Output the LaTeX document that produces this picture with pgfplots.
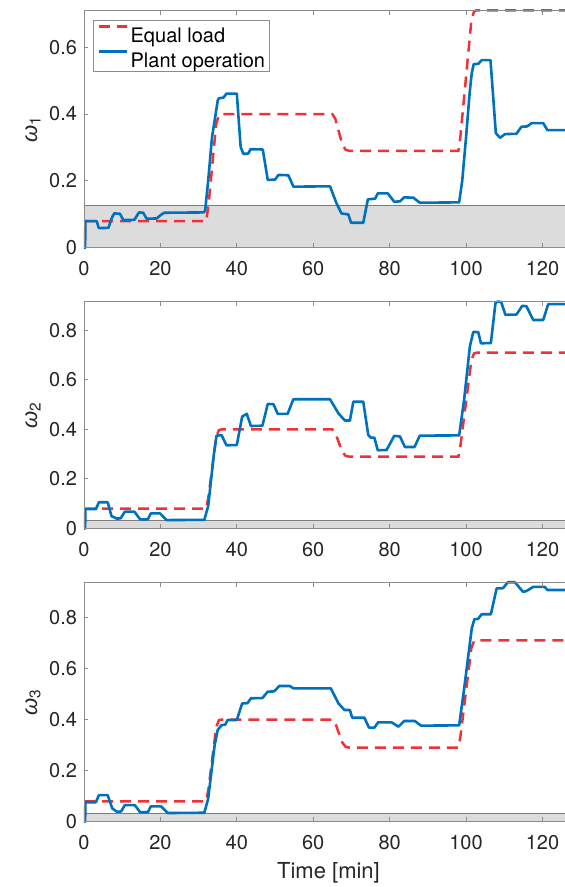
\documentclass[border=0pt]{standalone}
\usepackage{fontspec}
\setmainfont{TeX Gyre Heros}
\newfontfamily\greekfont{Liberation Sans}
\usepackage{pgfplots}
\pgfplotsset{compat=1.18}

\definecolor{planblue}{RGB}{0,114,189}
\definecolor{eqred}{RGB}{238,50,56}
\definecolor{bandfill}{RGB}{220,220,220}
\definecolor{bandedge}{RGB}{125,125,125}
\definecolor{framegray}{RGB}{140,140,140}
\definecolor{labelgray}{RGB}{38,38,38}

% Equal-load reference split (same for every unit)
\pgfplotstableread{
t w
0 0.08
32 0.08
32.6 0.13
34.6 0.37
35.3 0.397
36 0.40
65 0.40
65.8 0.385
67.6 0.31
68.5 0.293
69.5 0.29
98 0.29
98.5 0.33
101.4 0.68
102.1 0.707
102.8 0.71
128 0.71
}\equalload

\pgfplotsset{
  omegapanel/.style={
    scale only axis, width=244.5pt,
    xmin=0, xmax=128, ymin=0,
    clip=false, axis on top,
    axis line style={framegray, line width=0.5pt},
    every tick/.style={framegray, line width=0.5pt},
    major tick length=2.2pt, tick align=inside,
    xtick pos=both, ytick pos=left,
    xtick={0,20,40,60,80,100,120},
    /pgf/number format/assume math mode=true,
    ticklabel style={font=\fontsize{10}{12}\selectfont, text=labelgray},
    xticklabel style={anchor=north, inner sep=0pt, yshift=-6.5pt},
    yticklabel style={anchor=east, inner sep=0pt, xshift=-3.3pt},
    ylabel style={at={(axis description cs:-0.0879,0.5)}, anchor=south, inner sep=0pt,
                  font=\fontsize{11}{13}\selectfont, text=labelgray},
  },
  eqline/.style={eqred, line width=1.25pt, dash pattern=on 5.5pt off 3.5pt},
  plantline/.style={planblue, line width=1.3pt, line join=round},
}

\newcommand{\band}[1]{%
  \addplot[fill=bandfill, draw=none, forget plot] coordinates {(0,#1) (128,#1)} \closedcycle;
  \addplot[bandedge, line width=0.5pt, forget plot] coordinates {(0,#1) (128,#1)};
}

\begin{document}
\begin{tikzpicture}
\useasboundingbox (0,0) rectangle (282.5pt,443.5pt);

% unit 1
\begin{axis}[omegapanel, at={(42pt,319.55pt)}, anchor=south west, height=118.8pt,
  ymax=0.71, ytick={0,0.2,0.4,0.6}, yticklabels={0,0.2,0.4,0.6},
  ylabel={{\greekfont\itshape ω}\textsubscript{1}},
  legend cell align=left,
  legend image code/.code={\draw[#1] (0pt,3.6pt) -- (14pt,3.6pt);},
  legend style={at={(axis description cs:0,1)}, anchor=north west,
    xshift=4.35pt, yshift=-4.85pt, draw=framegray, line width=0.5pt, fill=white,
    inner xsep=2.2pt, inner ysep=1.8pt, row sep=3.1pt, column sep=1.2pt,
    font=\fontsize{10}{12}\selectfont, text=black,
    nodes={inner sep=0pt, text height=9.05pt, text depth=0.35pt}},
]
\band{0.127}
\addplot[eqline] table[x=t, y=w] {\equalload};
\addlegendentry{Equal load}
\addplot[plantline] coordinates {
(0,0) (0.3,0) (0.35,0.08) (3.3,0.08) (3.9,0.059) (6.4,0.06) (7.3,0.09) (7.9,0.103)
(9.4,0.102) (10.3,0.083) (13.2,0.084) (14.4,0.106) (15.5,0.105) (16.4,0.087) (19.0,0.088)
(20.3,0.1) (21.0,0.105) (31.2,0.106) (31.7,0.11) (32.5,0.2) (33.5,0.33) (35.0,0.44)
(35.3,0.447) (36.5,0.449) (37.3,0.461) (40.0,0.461) (41.0,0.302) (41.7,0.281) (43.0,0.282)
(43.6,0.295) (46.8,0.294) (48.1,0.203) (50.0,0.204) (50.9,0.218) (53.5,0.217) (54.8,0.183)
(64.4,0.184) (65.2,0.16) (66.1,0.133) (67.4,0.103) (69.2,0.10) (69.9,0.075) (73.1,0.075)
(74.3,0.145) (76.2,0.147) (76.9,0.163) (79.5,0.163) (81.2,0.138) (82.7,0.139) (83.8,0.151)
(86.2,0.15) (87.9,0.135) (98.2,0.136) (99.0,0.2) (100,0.33) (101.0,0.47) (101.5,0.522)
(102.0,0.549) (103.2,0.55) (104.1,0.561) (106.4,0.561) (107.8,0.343) (108.9,0.329)
(110.2,0.34) (113.2,0.341) (114.5,0.362) (116.0,0.363) (117.2,0.373) (120.2,0.373)
(121.3,0.352) (128,0.352)
};
\addlegendentry{Plant operation}
\end{axis}

% unit 2
\begin{axis}[omegapanel, at={(42pt,179.25pt)}, anchor=south west, height=113.4pt,
  ymax=0.916, ytick={0,0.2,0.4,0.6,0.8}, yticklabels={0,0.2,0.4,0.6,0.8},
  ylabel={{\greekfont\itshape ω}\textsubscript{2}},
]
\band{0.034}
\addplot[eqline] table[x=t, y=w] {\equalload};
\addplot[plantline] coordinates {
(0,0) (0.3,0) (0.35,0.078) (3.1,0.078) (3.9,0.106) (6.2,0.106) (7.2,0.05) (8.6,0.040)
(9.6,0.041) (10.7,0.068) (13.2,0.068) (14.7,0.037) (16.7,0.037) (17.5,0.061) (19.9,0.061)
(21.6,0.034) (31.5,0.035) (32.5,0.09) (34.0,0.30) (34.7,0.375) (36.0,0.377) (37.3,0.336)
(40.0,0.337) (41.4,0.452) (42.6,0.463) (43.7,0.414) (46.7,0.415) (48.1,0.503) (49.6,0.502)
(50.7,0.463) (53.3,0.463) (54.8,0.522) (64.4,0.522) (66.6,0.465) (68.3,0.436) (69.6,0.436)
(70.5,0.512) (73.1,0.512) (74.4,0.378) (75.1,0.367) (76.0,0.367) (76.9,0.316) (79.2,0.317)
(81.2,0.374) (82.7,0.372) (84.0,0.329) (86.5,0.329) (87.9,0.375) (98.2,0.376) (99.5,0.52)
(101.0,0.735) (101.9,0.794) (103.2,0.793) (103.9,0.748) (106.5,0.749) (107.7,0.910)
(108.2,0.916) (109.2,0.915) (110.3,0.863) (113.2,0.864) (114.7,0.899) (115.8,0.898)
(117.6,0.842) (120.2,0.842) (121.5,0.906) (128,0.906)
};
\end{axis}

% unit 3
\begin{axis}[omegapanel, at={(42pt,32.65pt)}, anchor=south west, height=119.7pt,
  ymax=0.937, ytick={0,0.2,0.4,0.6,0.8}, yticklabels={0,0.2,0.4,0.6,0.8},
  ylabel={{\greekfont\itshape ω}\textsubscript{3}},
  xlabel={Time [min]},
  xlabel style={at={(axis description cs:0.5,0)}, anchor=base, inner sep=0pt,
                yshift=-28.15pt, font=\fontsize{11}{13}\selectfont, text=labelgray},
]
\band{0.031}
\addplot[eqline] table[x=t, y=w] {\equalload};
\addplot[plantline] coordinates {
(0,0) (0.3,0) (0.35,0.076) (3.1,0.076) (3.9,0.104) (6.2,0.104) (7.4,0.052) (8.6,0.039)
(9.7,0.040) (10.7,0.065) (13.3,0.065) (14.7,0.037) (16.7,0.037) (17.5,0.060) (20.2,0.060)
(21.9,0.034) (31.5,0.035) (32.5,0.09) (34.2,0.30) (35.0,0.359) (36.0,0.378) (37.0,0.38)
(37.6,0.398) (40.0,0.398) (41.4,0.463) (42.8,0.464) (43.7,0.483) (46.7,0.484) (48.1,0.509)
(49.8,0.51) (51.1,0.531) (53.9,0.531) (54.8,0.522) (64.6,0.522) (66.6,0.463) (68.2,0.437)
(69.6,0.437) (70.2,0.407) (73.4,0.407) (74.6,0.368) (76.0,0.368) (77.0,0.389) (80.5,0.389)
(82.3,0.372) (83.8,0.394) (86.6,0.394) (88.2,0.376) (98.2,0.377) (99.5,0.52) (101.5,0.757)
(102.2,0.793) (103.1,0.793) (104.1,0.812) (106.5,0.812) (108.0,0.913) (109.7,0.914)
(110.9,0.937) (112.8,0.937) (114.9,0.900) (115.7,0.902) (117.6,0.919) (120.6,0.919)
(121.3,0.907) (128,0.907)
};
\end{axis}
\end{tikzpicture}
\end{document}
